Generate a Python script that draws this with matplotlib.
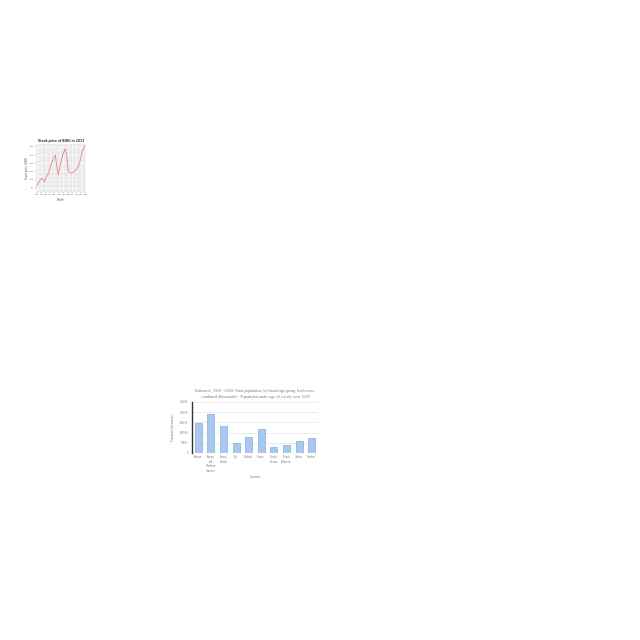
import matplotlib
matplotlib.use("Agg")
import matplotlib.pyplot as plt
import numpy as np

# ---- Line chart data ----
line_x = [1, 16, 22, 33, 41, 49, 60, 71, 77, 83, 89, 97, 108, 116, 123, 130, 141, 155, 170, 178, 186, 194, 198]
line_y = [86, 100, 103, 95, 108, 116, 138, 154, 160, 131, 112, 138, 162, 175, 160, 120, 116, 120, 131, 146, 168, 179, 183]
month_ticks = [1, 19, 37, 55, 73, 91, 109, 127, 145, 163, 181, 199]
month_labels = ["Jan", "Feb", "Mar", "Apr", "May", "Jun", "Jul", "Aug", "Sep", "Oct", "Nov", "Dec"]
line_title = "Stock price of BIDU in 2013"

# ---- Bar chart data ----
categories = ["Europe", "Europe\nand\nNorthern\nAmerica", "Faeroe\nIslands", "Fiji", "Finland",
              "France", "French\nGuiana", "French\nPolynesia", "Gabon", "Gambia"]
values = [146500, 192000, 130000, 48000, 77500, 118000, 31500, 38000, 59000, 72500]
bar_yticks = [0, 50000, 100000, 150000, 200000, 250000]
bar_title = ("Estimates, 1950 - 2020: Total population, by broad age group, both sexes\n"
             "combined (thousands) - Population under age 15 for the year 1968")

W = H = 640
fig = plt.figure(figsize=(6.4, 6.4), dpi=100)
fig.patch.set_facecolor("white")

def box(l, t, r, b):
    return [l / W, 1 - b / H, (r - l) / W, (b - t) / H]

# ---- Line chart ----
ax1 = fig.add_axes(box(36, 144, 86, 192))
ax1.set_facecolor("#e8e8e8")
ax1.plot(line_x, line_y, color="#e06070", lw=0.5, alpha=0.9)
ax1.set_xlim(-2, 202)
ax1.set_ylim(70, 187)
ax1.set_xticks(month_ticks)
ax1.set_xticklabels(month_labels)
ax1.set_yticks([80, 100, 120, 140, 160, 180])
ax1.set_xticks(np.arange(10, 200, 18), minor=True)
ax1.set_yticks(np.arange(90, 187, 20), minor=True)
ax1.grid(True, which="major", color="white", lw=0.4)
ax1.grid(True, which="minor", color="white", lw=0.2)
ax1.set_axisbelow(True)
for s in ax1.spines.values():
    s.set_visible(False)
ax1.tick_params(labelsize=1.5, length=0.8, width=0.3, pad=0.6, colors="#555555")
ax1.tick_params(which="minor", length=0)
ax1.set_title(line_title, fontsize=2.2, fontweight="bold", pad=1.5, color="#333333")
ax1.set_xlabel("Month", fontsize=1.8, labelpad=0.8, color="#444444")
ax1.set_ylabel("Stock price (USD)", fontsize=1.8, labelpad=1, color="#444444")

# ---- Bar chart ----
serif = ["Liberation Serif", "DejaVu Serif"]
ax2 = fig.add_axes(box(192, 402, 318, 453))
xpos = np.arange(len(categories))
ax2.bar(xpos, values, width=0.55, color="#aac8ee", edgecolor="#6f9fd8", linewidth=0.4)
ax2.set_xlim(-0.5, len(categories) - 0.5)
ax2.set_ylim(0, 250000)
ax2.set_yticks(bar_yticks)
ax2.set_yticklabels([str(v) for v in bar_yticks], fontfamily=serif)
ax2.set_xticks(xpos)
ax2.set_xticklabels(categories, fontfamily=serif, linespacing=1.2)
ax2.grid(axis="y", color="#dddddd", lw=0.4)
ax2.set_axisbelow(True)
for k in ["top", "right", "bottom"]:
    ax2.spines[k].set_visible(False)
ax2.spines["left"].set_linewidth(1.0)
ax2.spines["left"].set_color("#333333")
ax2.tick_params(axis="y", labelsize=2, length=0, pad=3, colors="#777777")
ax2.tick_params(axis="x", labelsize=2, length=0, pad=1.5, colors="#777777")
ax2.set_title(bar_title, fontsize=3, pad=3, color="#777777", fontfamily=serif, linespacing=1.5)
ax2.set_xlabel("Countries", fontsize=2, labelpad=1.5, color="#777777", fontfamily=serif)
ax2.set_ylabel("Population (thousands)", fontsize=2, labelpad=3, color="#777777", fontfamily=serif)

fig.savefig("out.png", dpi=100, facecolor="white")
